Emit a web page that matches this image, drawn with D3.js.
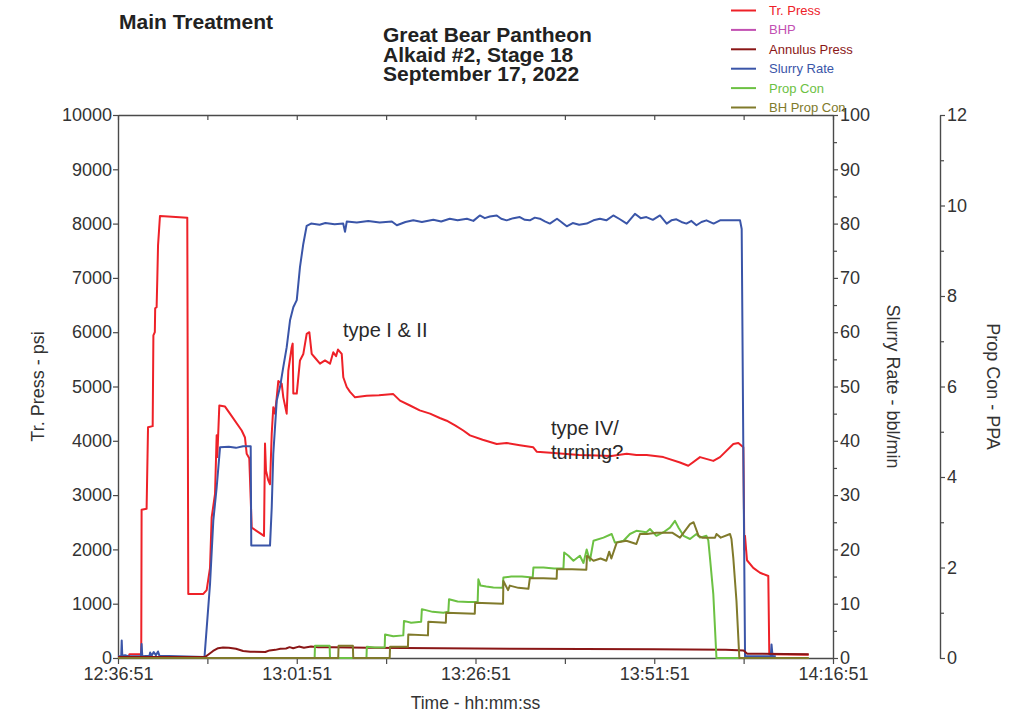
<!DOCTYPE html>
<html>
<head>
<meta charset="utf-8">
<script src="https://cdn.jsdelivr.net/npm/d3@7"></script>
<style>
  html, body { margin: 0; padding: 0; background: #fff; }
  svg { display: block; font-family: "Liberation Sans", Arial, sans-serif; }
</style>
</head>
<body>
<svg id="chart" width="1023" height="715"></svg>
<script>
// ---- data: elapsed minutes from 12:36:51, value ----
const timeTickValues = [0, 25, 50, 75, 100];
const timeTickLabels = ["12:36:51", "13:01:51", "13:26:51", "13:51:51", "14:16:51"];
const pressTicks = [0, 1000, 2000, 3000, 4000, 5000, 6000, 7000, 8000, 9000, 10000];
const rateTicks = [0, 10, 20, 30, 40, 50, 60, 70, 80, 90, 100];
const conTicks = [0, 2, 4, 6, 8, 10, 12];

const legendNames = ["Tr. Press", "BHP", "Annulus Press", "Slurry Rate", "Prop Con", "BH Prop Con"];

// Treating pressure, psi
const trPress = [
  [0,20],[1.5,25],[1.6,70],[3.25,70],[3.3,2730],[4.0,2750],[4.2,4250],[4.85,4270],[4.95,5940],
  [5.15,6000],[5.2,6440],[5.4,6460],[5.5,7000],[5.6,7600],[5.87,8140],[7.0,8130],[9.69,8110],
  [9.83,1180],[11.93,1180],[12.4,1250],[12.87,1660],[13.1,2590],[13.57,3020],[13.8,4100],
  [13.89,3700],[14.17,4650],[14.97,4630],[15.66,4500],[17.3,4190],[17.76,4060],[18.0,3760],
  [18.36,3680],[18.7,2400],[20.42,2250],[20.56,3950],[20.7,3450],[21.02,3270],[21.26,3200],
  [21.5,4130],[21.72,4620],[21.96,4500],[22.2,4800],[22.42,5100],[22.9,5050],[23.12,4800],
  [23.59,4500],[23.82,5290],[24.29,5720],[24.43,5790],[24.52,4870],[25.0,4870],[25.45,5480],
  [25.92,5600],[26.39,5970],[26.76,6000],[27.09,5600],[27.55,5530],[28.25,5420],[28.95,5480],
  [29.65,5420],[30.11,5630],[30.5,5560],[30.77,5680],[31.29,5600],[31.51,5170],[31.99,4990],
  [32.45,4900],[33.15,4800],[34.78,4830],[36.5,4840],[38.5,4860],[39.44,4740],[40.84,4650],
  [42.2,4560],[43.64,4500],[45.0,4420],[45.97,4370],[47.2,4280],[48.29,4190],[49.23,4100],
  [51.0,4020],[52.97,3940],[54.36,3960],[56.2,3920],[58.08,3880],[58.56,3800],[60.5,3780],
  [62.28,3760],[64.5,3740],[66.95,3730],[69.0,3720],[71.15,3760],[72.5,3740],[73.94,3740],
  [76.27,3700],[78.6,3600],[79.76,3540],[81.4,3700],[83.26,3630],[84.2,3700],[86.06,3940],
  [86.76,3960],[87.46,3880],[87.6,2000],[87.69,2250],[87.97,1800],[88.85,1660],[89.79,1570],
  [90.95,1510],[91.09,70],[96.6,60]
];

// Annulus pressure, psi
const annulusPress = [
  [0,20],[12.2,20],[12.6,60],[13.3,130],[14.0,180],[14.7,195],[15.5,190],[16.5,170],[17.5,130],
  [18.5,115],[20.6,110],[21.2,140],[22.0,150],[22.7,170],[23.5,175],[24.0,200],[24.5,180],
  [25.3,210],[26.0,190],[27.0,210],[28.0,200],[30.0,200],[35.0,190],[45.0,180],[55.0,170],
  [65.0,165],[75.0,160],[85.0,150],[87.5,140],[88.0,80],[96.6,70]
];

// Slurry rate, bbl/min
const slurryRate = [
  [0,0.3],[0.45,0.3],[0.52,3.2],[0.6,0.4],[1.0,0.5],[1.5,0.3],[3.2,0.3],[3.3,2.6],[3.4,0.3],
  [4.4,0.4],[4.5,1.0],[4.7,0.4],[5.0,1.1],[5.3,0.5],[5.6,1.2],[5.8,0.4],[12.1,0.2],
  [12.87,13.6],[13.33,25.3],[13.8,31.4],[14.27,38.8],[15.5,38.9],[16.5,38.7],[17.5,39.0],
  [18.56,39.0],[18.64,20.7],[21.26,20.7],[21.5,27.7],[21.72,37.6],[22.2,47.4],[22.66,49.9],
  [23.12,53.6],[23.59,57.2],[24.06,62.2],[24.52,64.6],[25.0,65.9],[25.45,72.0],[25.92,76.3],
  [26.39,79.6],[27.0,80.0],[28.2,79.8],[29.0,80.1],[30.3,79.9],[31.5,80.0],[31.75,78.5],
  [32.0,80.4],[33.4,80.2],[35.0,80.5],[36.6,80.2],[38.3,80.4],[39.0,79.7],[40.2,80.3],
  [41.3,80.6],[42.5,80.3],[44.1,80.7],[45.2,80.4],[46.4,80.9],[47.5,80.6],[48.8,80.9],
  [49.7,80.5],[50.6,81.5],[51.3,81.0],[52.0,81.3],[52.97,81.5],[53.6,80.9],[54.36,80.6],
  [55.3,81.0],[56.2,81.2],[56.9,80.7],[57.6,80.6],[58.3,81.1],[59.0,80.9],[59.7,80.4],
  [60.4,80.0],[61.4,80.9],[62.0,80.3],[62.76,79.5],[63.6,80.1],[64.5,79.8],[65.55,80.0],
  [66.5,80.6],[67.4,80.9],[68.3,80.6],[69.27,81.5],[70.2,80.8],[71.15,80.0],[72.3,81.8],
  [73.1,81.0],[73.9,81.2],[74.8,80.7],[75.8,81.5],[76.74,80.0],[77.4,80.6],[78.1,80.8],
  [78.8,80.3],[79.5,80.0],[80.2,80.5],[80.9,79.7],[81.6,80.3],[82.3,80.6],[83.3,80.0],
  [84.2,80.6],[85.6,80.6],[87.0,80.6],[87.23,79.0],[87.45,40.0],[87.7,0.3],[91.3,0.3],
  [91.4,2.5],[91.55,0.3],[92.0,0.3]
];

// Surface proppant concentration, PPA
const propCon = [
  [0,0],[27.5,0],[27.55,0.27],[29.6,0.27],[29.65,0],[34.75,0],[34.8,0.25],[35.9,0.23],
  [37.3,0.23],[37.35,0.52],[38.5,0.48],[39.9,0.5],[40.0,0.82],[41.0,0.78],[42.4,0.8],
  [42.5,1.08],[44.0,1.02],[45.5,1.0],[46.2,1.02],[46.3,1.3],[47.5,1.25],[49.0,1.24],
  [50.3,1.24],[50.4,1.74],[50.7,1.6],[51.5,1.58],[52.5,1.56],[53.8,1.55],[53.9,1.78],
  [55.0,1.8],[56.5,1.8],[58.0,1.78],[58.1,2.0],[59.5,2.0],[61.0,1.98],[62.3,1.98],
  [62.4,2.33],[63.0,2.26],[63.7,2.15],[64.6,2.26],[65.1,2.1],[65.55,2.4],[66.0,2.15],
  [66.5,2.59],[67.9,2.66],[69.05,2.74],[69.5,2.55],[70.7,2.59],[71.6,2.74],[72.5,2.81],
  [73.9,2.78],[74.4,2.85],[75.3,2.7],[76.3,2.78],[77.2,2.88],[77.9,3.03],[78.4,2.88],
  [79.1,2.7],[80.0,2.63],[80.9,2.74],[81.4,2.66],[82.3,2.7],[82.56,2.6],[82.8,2.2],
  [83.26,1.41],[83.7,0],[96.6,0]
];

// Bottom-hole proppant concentration, PPA
const bhPropCon = [
  [0,0],[30.8,0],[30.85,0.27],[32.85,0.27],[32.9,0],[38.0,0],[38.05,0.25],[40.55,0.25],
  [40.6,0.52],[43.35,0.5],[43.4,0.8],[45.85,0.78],[45.9,1.0],[49.9,0.98],[49.95,1.22],
  [53.85,1.2],[53.9,1.7],[54.55,1.5],[54.8,1.6],[56.0,1.55],[57.4,1.53],[57.6,1.76],
  [59.5,1.76],[61.35,1.75],[61.4,1.96],[63.5,1.96],[65.5,1.95],[65.6,2.26],[66.5,2.15],
  [67.5,2.2],[68.3,2.15],[68.7,2.35],[69.0,2.2],[69.75,2.55],[71.1,2.59],[72.5,2.52],
  [73.0,2.74],[74.0,2.74],[75.3,2.77],[77.5,2.77],[78.6,2.66],[80.0,2.96],[80.5,3.0],
  [81.2,2.7],[81.7,2.66],[83.5,2.66],[83.7,2.74],[84.3,2.66],[85.6,2.74],[85.8,2.63],
  [86.06,2.2],[86.5,1.26],[86.9,0],[96.6,0]
];

// ---- layout & styles ----
const colors = {
  "Tr. Press": "#ee2128",
  "BHP": "#c250b2",
  "Annulus Press": "#8a1616",
  "Slurry Rate": "#3a55a8",
  "Prop Con": "#6cc143",
  "BH Prop Con": "#807a2b"
};
const plot = { left: 118, right: 833, top: 115, bottom: 658 };
const conAxisX = 940;
const axisColor = "#4a4a4a";
const textColor = "#333";

const svg = d3.select("#chart");

const x = d3.scaleLinear().domain([0, 100]).range([plot.left, plot.right]);
const yPress = d3.scaleLinear().domain([0, 10000]).range([plot.bottom, plot.top]);
const yRate = d3.scaleLinear().domain([0, 100]).range([plot.bottom, plot.top]);
const yCon = d3.scaleLinear().domain([0, 12]).range([plot.bottom, plot.top]);

function styleAxis(g, fontSize) {
  g.select(".domain").attr("stroke", axisColor).attr("stroke-width", 1.4);
  g.selectAll(".tick line").attr("stroke", axisColor).attr("stroke-width", 1.2);
  g.selectAll(".tick text")
    .attr("fill", textColor)
    .style("font-size", fontSize + "px")
    .style("font-family", "'Liberation Sans', Arial, sans-serif");
}

// bottom time axis: ticks every 12.5 min, labels every 25 min
const quarterTicks = d3.range(0, 100.001, 12.5);
const gx = svg.append("g")
  .attr("transform", `translate(0,${plot.bottom})`)
  .call(d3.axisBottom(x)
    .tickValues(quarterTicks)
    .tickSize(6).tickSizeOuter(0).tickPadding(3)
    .tickFormat(v => {
      const i = timeTickValues.indexOf(v);
      return i >= 0 ? timeTickLabels[i] : "";
    }));
styleAxis(gx, 18);

// top frame line with inward ticks
const gTop = svg.append("g")
  .attr("transform", `translate(0,${plot.top})`)
  .call(d3.axisBottom(x).tickValues(quarterTicks).tickSize(5).tickSizeOuter(0).tickFormat(""));
styleAxis(gTop, 18);

// left pressure axis
const gy = svg.append("g")
  .attr("transform", `translate(${plot.left},0)`)
  .call(d3.axisLeft(yPress).tickValues(pressTicks).tickSize(5).tickSizeOuter(0).tickPadding(1)
    .tickFormat(d3.format("d")));
styleAxis(gy, 18);

// right slurry-rate axis with minor ticks
const gr = svg.append("g")
  .attr("transform", `translate(${plot.right},0)`)
  .call(d3.axisRight(yRate).tickValues(rateTicks).tickSize(5).tickSizeOuter(0).tickPadding(2));
styleAxis(gr, 18);
svg.append("g")
  .attr("transform", `translate(${plot.right},0)`)
  .call(d3.axisRight(yRate).tickValues(d3.range(5, 100, 10)).tickSize(4).tickFormat(""))
  .call(g => { g.select(".domain").remove(); styleAxis(g, 18); });

// far-right proppant concentration axis with minor ticks
const gc = svg.append("g")
  .attr("transform", `translate(${conAxisX},0)`)
  .call(d3.axisRight(yCon).tickValues(conTicks).tickSize(5).tickSizeOuter(0).tickPadding(2));
styleAxis(gc, 18);
svg.append("g")
  .attr("transform", `translate(${conAxisX},0)`)
  .call(d3.axisRight(yCon).tickValues(d3.range(1, 12, 2)).tickSize(4).tickFormat(""))
  .call(g => { g.select(".domain").remove(); styleAxis(g, 18); });

// axis titles
svg.append("text")
  .attr("transform", `translate(44,${(plot.top + plot.bottom) / 2 + 0}) rotate(-90)`)
  .attr("text-anchor", "middle").attr("fill", textColor).style("font-size", "18px")
  .text("Tr. Press - psi");
svg.append("text")
  .attr("transform", `translate(887,${(plot.top + plot.bottom) / 2}) rotate(90)`)
  .attr("text-anchor", "middle").attr("fill", textColor).style("font-size", "18px")
  .text("Slurry Rate - bbl/min");
svg.append("text")
  .attr("transform", `translate(987,${(plot.top + plot.bottom) / 2}) rotate(90)`)
  .attr("text-anchor", "middle").attr("fill", textColor).style("font-size", "18px")
  .text("Prop Con - PPA");
svg.append("text")
  .attr("x", (plot.left + plot.right) / 2).attr("y", 709)
  .attr("text-anchor", "middle").attr("fill", textColor).style("font-size", "17.5px")
  .text("Time - hh:mm:ss");

// titles
svg.append("text").attr("x", 119).attr("y", 29)
  .attr("fill", "#222").style("font-size", "21px").style("font-weight", "bold")
  .text("Main Treatment");
const titleLines = ["Great Bear Pantheon", "Alkaid #2, Stage 18", "September 17, 2022"];
svg.append("g").selectAll("text").data(titleLines).join("text")
  .attr("x", 383).attr("y", (d, i) => 42 + i * 19.5)
  .attr("fill", "#222").style("font-size", "21px").style("font-weight", "bold")
  .text(d => d);

// legend
const legend = svg.append("g").selectAll("g").data(legendNames).join("g")
  .attr("transform", (d, i) => `translate(0,${10.5 + i * 19.4})`);
legend.append("line")
  .attr("x1", 731).attr("x2", 756).attr("y1", 0).attr("y2", 0)
  .attr("stroke", d => colors[d]).attr("stroke-width", 2);
legend.append("text")
  .attr("x", 769).attr("dy", "0.35em")
  .attr("fill", d => colors[d]).style("font-size", "13px")
  .text(d => d);

// traces
const clip = svg.append("clipPath").attr("id", "plotClip")
  .append("rect").attr("x", plot.left).attr("y", plot.top - 2)
  .attr("width", plot.right - plot.left).attr("height", plot.bottom - plot.top + 4);

const traces = svg.append("g").attr("clip-path", "url(#plotClip)");
function drawTrace(data, yScale, name) {
  traces.append("path")
    .datum(data)
    .attr("fill", "none")
    .attr("stroke", colors[name])
    .attr("stroke-width", 2)
    .attr("stroke-linejoin", "round")
    .attr("d", d3.line().x(d => x(d[0])).y(d => yScale(d[1])));
}
drawTrace(trPress, yPress, "Tr. Press");
drawTrace(slurryRate, yRate, "Slurry Rate");
drawTrace(annulusPress, yPress, "Annulus Press");
drawTrace(propCon, yCon, "Prop Con");
drawTrace(bhPropCon, yCon, "BH Prop Con");

// annotations
const notes = svg.append("g").attr("fill", "#2a2a2a").style("font-size", "20px");
notes.append("text").attr("x", 343).attr("y", 337).text("type I & II");
notes.append("text").attr("x", 551).attr("y", 435).text("type IV/");
notes.append("text").attr("x", 551).attr("y", 459).text("turning?");
</script>
</body>
</html>
